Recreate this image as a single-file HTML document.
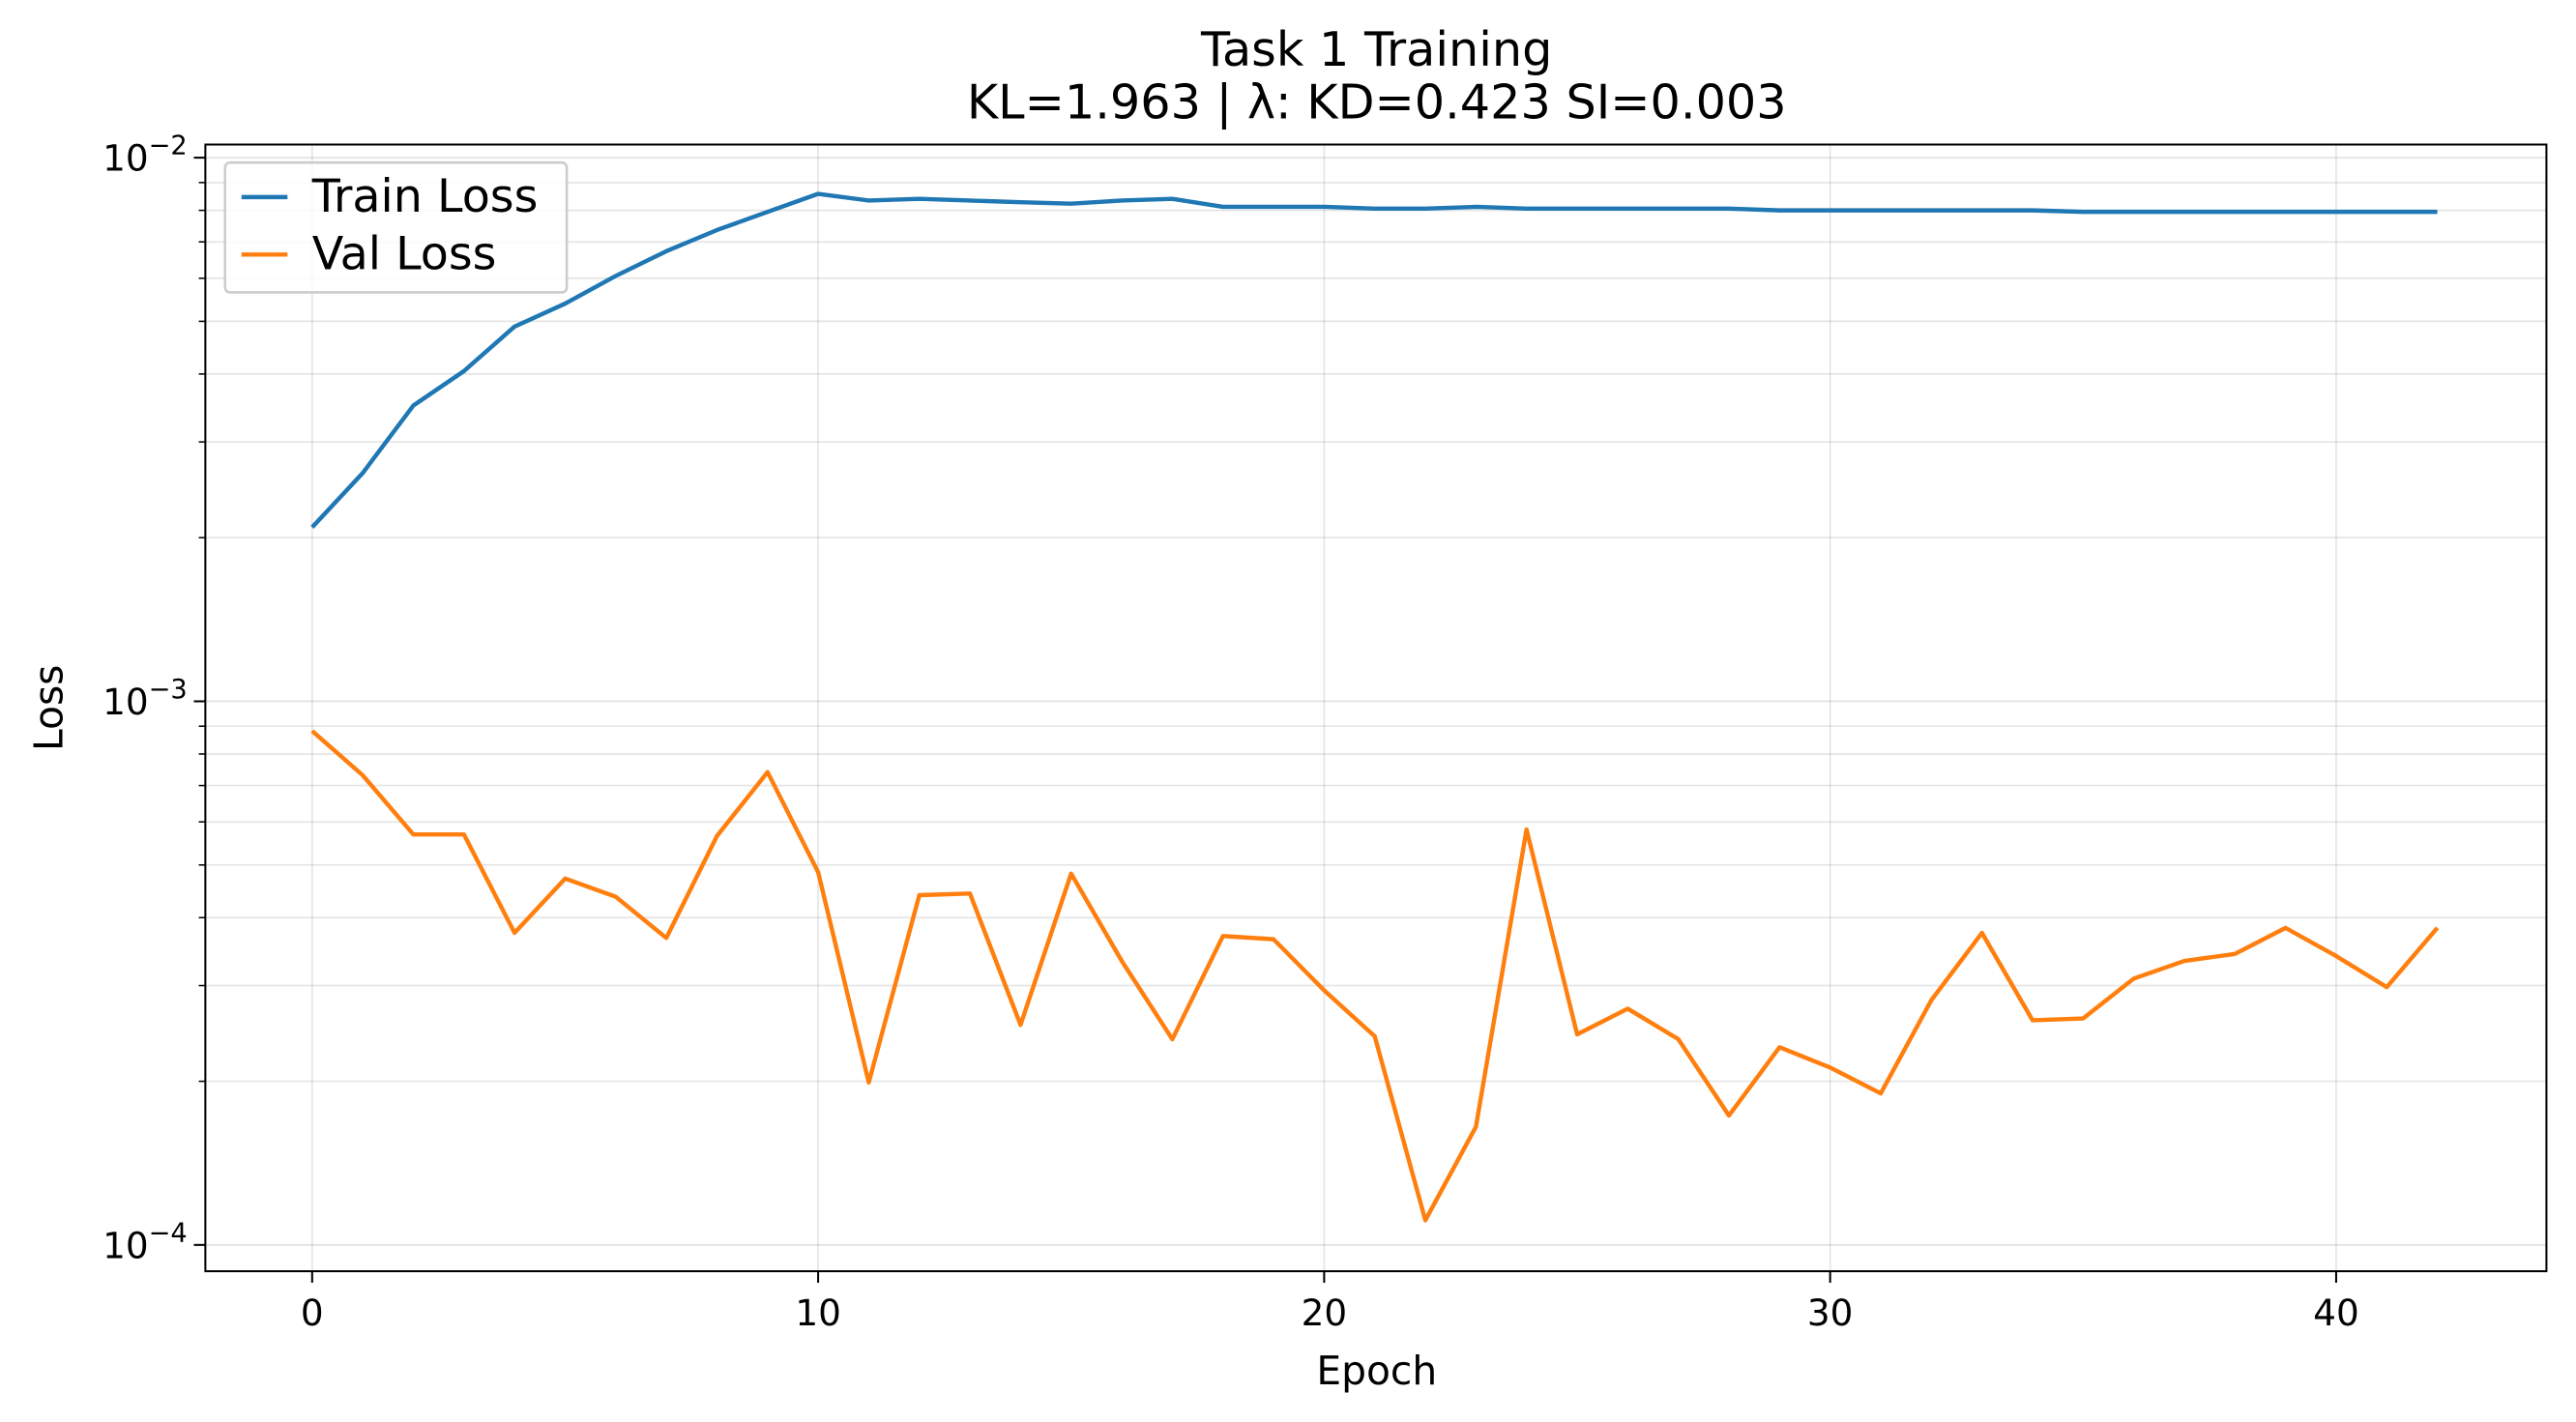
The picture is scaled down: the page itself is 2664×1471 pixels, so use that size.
<!DOCTYPE html>
<html><head><meta charset="utf-8"><style>
html,body{margin:0;padding:0;background:#fff;}
svg{display:block;font-family:"DejaVu Sans","Liberation Sans",sans-serif;}
</style></head><body>
<svg id="chart" width="2664" height="1471" viewBox="0 0 1568 865.8" xmlns="http://www.w3.org/2000/svg"></svg>
<script>
const epochs = Array.from({length:43},(_,i)=>i);
const trainLoss = [2.09e-3,2.63e-3,3.50e-3,4.05e-3,4.89e-3,5.39e-3,6.06e-3,6.73e-3,7.36e-3,7.95e-3,8.58e-3,8.34e-3,8.40e-3,8.34e-3,8.28e-3,8.23e-3,8.34e-3,8.40e-3,8.12e-3,8.12e-3,8.12e-3,8.06e-3,8.06e-3,8.12e-3,8.06e-3,8.06e-3,8.06e-3,8.06e-3,8.06e-3,8.00e-3,8.00e-3,8.00e-3,8.00e-3,8.00e-3,8.00e-3,7.95e-3,7.95e-3,7.95e-3,7.95e-3,7.95e-3,7.95e-3,7.95e-3,7.95e-3];
const valLoss = [8.82e-4,7.31e-4,5.69e-4,5.69e-4,3.75e-4,4.72e-4,4.37e-4,3.67e-4,5.65e-4,7.41e-4,4.85e-4,1.99e-4,4.40e-4,4.43e-4,2.54e-4,4.82e-4,3.33e-4,2.39e-4,3.70e-4,3.65e-4,2.94e-4,2.42e-4,1.11e-4,1.65e-4,5.81e-4,2.44e-4,2.72e-4,2.39e-4,1.73e-4,2.31e-4,2.12e-4,1.90e-4,2.82e-4,3.75e-4,2.59e-4,2.61e-4,3.09e-4,3.33e-4,3.43e-4,3.83e-4,3.40e-4,2.98e-4,3.83e-4];
const xTicks = [0,10,20,30,40];
const yMajorExp = [-2,-3,-4];

const svg = document.getElementById('chart');
const NS = 'http://www.w3.org/2000/svg';
const L=125,R=1550,T=88,B=774;
const x = v => 190 + v*30.8;
const y = v => 96 + (-2 - Math.log10(v))*331;
function mk(tag, attrs, parent){const e=document.createElementNS(NS,tag);for(const k in attrs)e.setAttribute(k,attrs[k]);(parent||svg).appendChild(e);return e;}

const grid = mk('g',{});


xTicks.forEach(t=>{const l=mk('line',{x1:x(t),x2:x(t),y1:T,y2:B,stroke:'#000','stroke-opacity':0.1,'stroke-width':1},grid);

});
[-4,-3,-2].forEach(e=>{for(let m=1;m<10;m++){const v=m*Math.pow(10,e);const yy=y(v);if(yy<T||yy>B)continue;
const l=mk('line',{x1:L,x2:R,y1:yy,y2:yy,stroke:'#000','stroke-opacity':0.1,'stroke-width':m===1?1.2:1},grid);


const tk=mk('line',{x1:L,x2:L-(m===1?7:4),y1:yy,y2:yy,stroke:'#000','stroke-width':m===1?1.2:0.9});

}});

function series(vals,color,name){const p=mk('polyline',{points:vals.map((v,i)=>x(epochs[i])+','+y(v)).join(' '),fill:'none',stroke:color,'stroke-width':2.6,'stroke-linejoin':'round'});

}
series(trainLoss,'#1f77b4','train-loss-line');
series(valLoss,'#ff7f0e','val-loss-line');

const frame=mk('rect',{x:L,y:T,width:R-L,height:B-T,fill:'none',stroke:'#000','stroke-width':1.2});



xTicks.forEach(t=>{const tk=mk('line',{x1:x(t),x2:x(t),y1:B,y2:B+7,stroke:'#000','stroke-width':1.2});


const tx=mk('text',{x:x(t),y:B+33,'text-anchor':'middle','font-size':22});tx.textContent=t;

});
yMajorExp.forEach(e=>{const tx=mk('text',{x:L-11,y:y(Math.pow(10,e))+8,'text-anchor':'end','font-size':22});
const a=mk('tspan',{},tx);a.textContent='10';
const b=mk('tspan',{dy:-10,'font-size':16},tx);b.textContent='\u2212'+(-e);

});

const xt=mk('text',{x:838,y:843,'text-anchor':'middle','font-size':24});xt.textContent='Epoch';


const yt=mk('text',{x:38,y:431,'text-anchor':'middle','font-size':24,transform:'rotate(-90 38 431)'});yt.textContent='Loss';


const t1=mk('text',{x:838,y:40,'text-anchor':'middle','font-size':29});t1.textContent='Task 1 Training';


const t2=mk('text',{x:838,y:72,'text-anchor':'middle','font-size':29});t2.textContent='KL=1.963 | \u03bb: KD=0.423 SI=0.003';



const lg=mk('g',{});


mk('rect',{x:137,y:99,width:208,height:79,rx:3,fill:'#fff','fill-opacity':0.8,stroke:'#ccc','stroke-width':1.5},lg);
[['Train Loss','#1f77b4',120],['Val Loss','#ff7f0e',155]].forEach(([n,c,yy])=>{
const ln=mk('line',{x1:147,x2:175,y1:yy,y2:yy,stroke:c,'stroke-width':2.6},lg);


const tx=mk('text',{x:190,y:yy+9,'font-size':28},lg);tx.textContent=n;

});
</script>
</body></html>
